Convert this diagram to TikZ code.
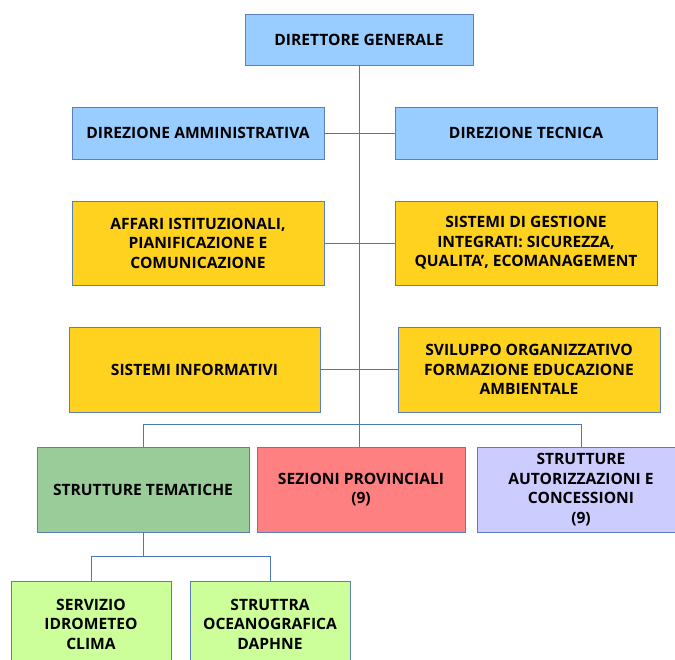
\documentclass[tikz,border=0pt]{standalone}
\usepackage{fontspec}
\setmainfont{Open Sans}
\definecolor{bblue}{HTML}{99CCFF}
\definecolor{byellow}{HTML}{FFD21F}
\definecolor{bgreen}{HTML}{99CC99}
\definecolor{bred}{HTML}{FF8080}
\definecolor{blav}{HTML}{CCCCFF}
\definecolor{blgreen}{HTML}{CCFF99}
\definecolor{edge}{HTML}{5B7FB8}
\definecolor{conn}{HTML}{4A78B8}
\tikzset{
  box/.style={draw=edge, line width=0.9pt, rectangle, align=center, inner sep=2pt,
    font=\fontsize{15.6}{19.5}\selectfont\bfseries, text=black},
  conline/.style={draw=conn, line width=0.9pt}
}
\begin{document}
\begin{tikzpicture}[x=1pt,y=-1pt]
\useasboundingbox (0,0) rectangle (675,660);
\fill[white] (0,0) rectangle (675,660);
\clip (0,0) rectangle (675,660);
\node[box, fill=bblue, minimum width=228, minimum height=51] (dg) at (359,39.5) {DIRETTORE GENERALE};
\node[box, fill=bblue, minimum width=252, minimum height=52] (da) at (198,133) {DIREZIONE AMMINISTRATIVA};
\node[box, fill=bblue, minimum width=262, minimum height=52] (dt) at (526,133) {DIREZIONE TECNICA};
\node[box, fill=byellow, minimum width=252, minimum height=84] (af) at (198,243) {AFFARI ISTITUZIONALI,\\PIANIFICAZIONE E\\COMUNICAZIONE};
\node[box, fill=byellow, minimum width=262, minimum height=84] (sg) at (526,243) {SISTEMI DI GESTIONE\\INTEGRATI: SICUREZZA,\\QUALITA', ECOMANAGEMENT};
\node[box, fill=byellow, minimum width=251, minimum height=85] (si) at (194.5,369.5) {SISTEMI INFORMATIVI};
\node[box, fill=byellow, minimum width=262, minimum height=85] (sv) at (529,369.5) {SVILUPPO ORGANIZZATIVO\\FORMAZIONE EDUCAZIONE\\AMBIENTALE};
\node[box, fill=bgreen, minimum width=212, minimum height=85] (st) at (143,489.5) {STRUTTURE TEMATICHE};
\node[box, fill=bred, minimum width=208, minimum height=85] (sp) at (361,489.5) {SEZIONI PROVINCIALI\\(9)};
\node[box, fill=blav, minimum width=208, minimum height=85] (sa) at (581,489.5) {STRUTTURE\\AUTORIZZAZIONI E\\CONCESSIONI\\(9)};
\node[box, fill=blgreen, minimum width=160, minimum height=86] (s1) at (91,624) {SERVIZIO\\IDROMETEO\\CLIMA};
\node[box, fill=blgreen, minimum width=160, minimum height=86] (s2) at (270,624) {STRUTTRA\\OCEANOGRAFICA\\DAPHNE};
\coordinate (top) at (359,65);
\coordinate (bot) at (359,447);
\coordinate (bus) at (359,424);
\coordinate (sb) at (143,556);
\draw[conline] (top) -- (bot);
\draw[conline] (da.east) -- (dt.west);
\draw[conline] (af.east) -- (sg.west);
\draw[conline] (si.east) -- (sv.west);
\draw[conline] (st.north) -- (st.north |- bus) -- (sa.north |- bus) -- (sa.north);
\draw[conline] (st.south) -- (sb);
\draw[conline] (s1.north) -- (s1.north |- sb) -- (s2.north |- sb) -- (s2.north);
\end{tikzpicture}
\end{document}
